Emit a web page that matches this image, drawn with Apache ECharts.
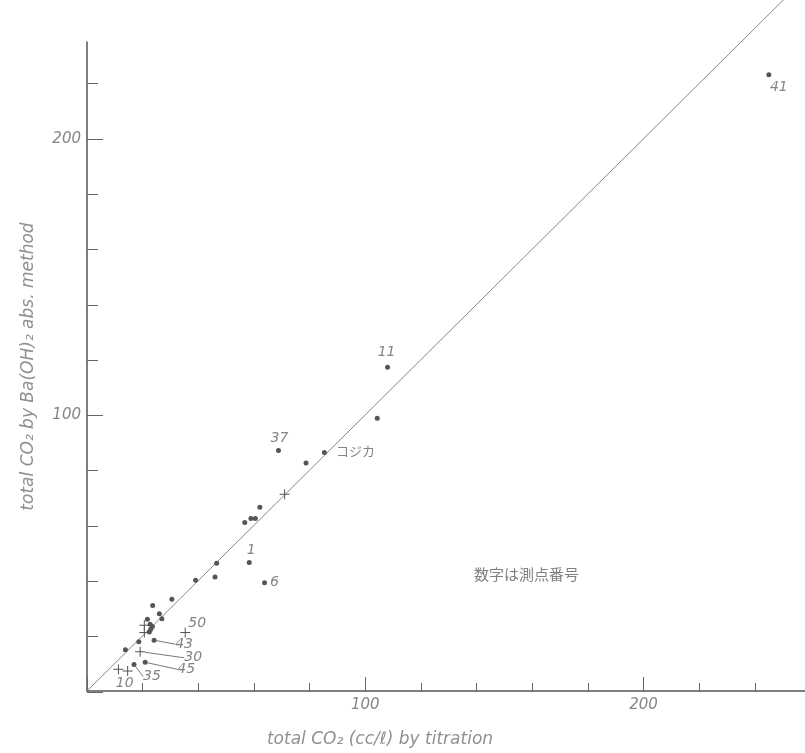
<!DOCTYPE html>
<html>
<head>
<meta charset="utf-8">
<script src="https://cdn.jsdelivr.net/npm/echarts@6/dist/echarts.min.js"></script>
<style>html,body{margin:0;padding:0;background:#fff;}#c{width:805px;height:753px;}</style>
</head>
<body>
<div id="c"></div>
<script>
// ---- data ----
const xMax = 258, yMax = 235;
const majorStep = 100, minorStep = 20;
const xMajorEnd = 200, xMinorEnd = 240;
const yMajorEnd = 200, yMinorEnd = 220;

const plainDots = [
  [104.3, 98.8], [78.7, 82.6], [62.1, 66.5], [60.5, 62.5], [58.9, 62.5], [56.7, 61.0],
  [46.6, 46.3], [46.0, 41.3], [39.0, 40.1], [30.5, 33.2], [23.6, 31.0], [26.0, 28.0],
  [26.9, 26.2], [21.7, 26.0], [22.7, 24.2], [23.5, 23.4], [22.9, 22.4], [22.4, 21.4],
  [18.6, 17.8], [13.8, 14.9]
];
const labeledDots = [
  ['41', 245.0, 223.1], ['11', 108.0, 117.2], ['37', 68.8, 87.1], ['コジカ', 85.3, 86.4],
  ['1', 58.3, 46.5], ['6', 63.8, 39.2], ['43', 24.1, 18.4], ['45', 20.9, 10.4], ['35', 16.9, 9.6]
];
const plainCrosses = [[71.0, 71.2], [20.6, 23.8], [20.6, 21.2], [11.3, 7.9]];
const labeledCrosses = [['50', 35.3, 21.2], ['30', 19.1, 14.2], ['10', 14.6, 7.2]];
const diagonal = [[0, 0], [258, 258]];

const xName = 'total CO₂ (cc/ℓ) by titration';
const yName = 'total CO₂ by Ba(OH)₂ abs. method';
const note = '数字は測点番号';

// ---- presentation ----
const labelOffset = {
  '41': [10, 12], '11': [-1, -15], '37': [1, -12], 'コジカ': [31, -1], '1': [2, -12],
  '6': [10, 0], '43': [30, 4], '45': [41, 7], '35': [18, 12], '50': [12, -9],
  '30': [53, 6], '10': [-3, 12]
};
const leader = {'43': 1, '45': 1, '35': 1, '30': 1};

const ink = '#555';
const txt = '#858585';
const fontItalic = {fontFamily: 'DejaVu Sans', fontStyle: 'italic', color: txt, fontSize: 14};
const crossPath = 'path://M4.5,0h1v4.5h4.5v1h-4.5v4.5h-1v-4.5h-4.5v-1h4.5z';

const G = {left: 87, right: 0, top: 42, bottom: 61};
const W = 805 - G.left - G.right, H = 753 - G.top - G.bottom;
const kx = W / xMax, ky = H / yMax;

function toItems(arr) {
  return arr.map(d => ({name: d[0], value: [d[1], d[2]]}));
}
function layoutFn(seriesData) {
  return function (p) {
    const name = seriesData[p.dataIndex].name;
    const off = labelOffset[name] || [0, 0];
    return {
      x: p.rect.x + p.rect.width / 2 + off[0],
      y: p.rect.y + p.rect.height / 2 + off[1],
      align: 'center', verticalAlign: 'middle'
    };
  };
}
function labeledSeries(items, symbol, size, withLeader) {
  const sel = items.filter(it => !!leader[it.name] === withLeader);
  return {
    type: 'scatter', data: sel, symbol: symbol, symbolSize: size,
    xAxisIndex: 0, yAxisIndex: 0,
    itemStyle: {color: ink, opacity: 1},
    label: Object.assign({show: true, position: 'inside', formatter: '{b}'}, fontItalic),
    labelLayout: layoutFn(sel),
    labelLine: {show: withLeader, smooth: false, length2: 0, lineStyle: {color: '#777', width: 1}},
    emphasis: {disabled: true}, animation: false, z: 3
  };
}

const dotItems = toItems(labeledDots);
const crossItems = toItems(labeledCrosses);

const hidden = {axisLine: {show: false}, axisTick: {show: false}, axisLabel: {show: false}, splitLine: {show: false}};
const labelFmt = v => (v === 0 ? '' : String(v));
const tickLabel = {show: true, margin: 6, fontFamily: 'DejaVu Sans', fontStyle: 'italic', color: txt, fontSize: 15, formatter: labelFmt};

const grids = [
  {left: G.left, right: G.right, top: G.top, bottom: G.bottom},                       // 0 main
  {left: G.left, right: 805 - G.left - xMajorEnd * kx, top: G.top, bottom: G.bottom},   // 1 x major
  {left: G.left, right: 805 - G.left - xMinorEnd * kx, top: G.top, bottom: G.bottom},   // 2 x minor
  {left: G.left, right: G.right, top: 753 - G.bottom - yMajorEnd * ky, bottom: G.bottom}, // 3 y major
  {left: G.left, right: G.right, top: 753 - G.bottom - yMinorEnd * ky, bottom: G.bottom}  // 4 y minor
];

const xAxes = [
  {type: 'value', gridIndex: 0, min: 0, max: xMax, position: 'bottom', splitLine: {show: false},
   axisLine: {show: true, lineStyle: {color: ink, width: 1.5}}, axisTick: {show: false}, axisLabel: {show: false},
   name: xName, nameLocation: 'middle', nameGap: 40,
   nameTextStyle: {fontFamily: 'DejaVu Sans', fontStyle: 'italic', color: '#909090', fontSize: 17, padding: [0, 132, 0, 0]}},
  {type: 'value', gridIndex: 1, min: 0, max: xMajorEnd, interval: majorStep, position: 'bottom', splitLine: {show: false},
   axisLine: {show: false}, axisTick: {show: true, inside: true, length: 15, lineStyle: {color: '#666', width: 1}},
   axisLabel: tickLabel},
  {type: 'value', gridIndex: 2, min: 0, max: xMinorEnd, interval: minorStep, position: 'bottom', splitLine: {show: false},
   axisLine: {show: false}, axisTick: {show: true, inside: true, length: 9, lineStyle: {color: '#666', width: 1}},
   axisLabel: {show: false}},
  Object.assign({type: 'value', gridIndex: 3, min: 0, max: 1}, hidden),
  Object.assign({type: 'value', gridIndex: 4, min: 0, max: 1}, hidden)
];
const yAxes = [
  {type: 'value', gridIndex: 0, min: 0, max: yMax, position: 'left', splitLine: {show: false},
   axisLine: {show: true, lineStyle: {color: ink, width: 1.5}}, axisTick: {show: false}, axisLabel: {show: false},
   name: yName, nameLocation: 'middle', nameGap: 50, nameRotate: 90,
   nameTextStyle: {fontFamily: 'DejaVu Sans', fontStyle: 'italic', color: '#909090', fontSize: 17}},
  Object.assign({type: 'value', gridIndex: 1, min: 0, max: 1}, hidden),
  Object.assign({type: 'value', gridIndex: 2, min: 0, max: 1}, hidden),
  {type: 'value', gridIndex: 3, min: 0, max: yMajorEnd, interval: majorStep, position: 'left', splitLine: {show: false},
   axisLine: {show: false}, axisTick: {show: true, inside: true, length: 16, lineStyle: {color: '#666', width: 1}},
   axisLabel: tickLabel},
  {type: 'value', gridIndex: 4, min: 0, max: yMinorEnd, interval: minorStep, position: 'left', splitLine: {show: false},
   axisLine: {show: false}, axisTick: {show: true, inside: true, length: 11, lineStyle: {color: '#666', width: 1}},
   axisLabel: {show: false}}
];

const option = {
  backgroundColor: '#fff',
  animation: false,
  grid: grids,
  xAxis: xAxes,
  yAxis: yAxes,
  graphic: [{
    type: 'text', left: 474, top: 567,
    style: {text: note, font: '15px "Noto Sans CJK JP"', fill: '#808080'}
  }],
  series: [
    {type: 'line', data: diagonal, showSymbol: false, symbol: 'none', clip: false,
     lineStyle: {color: '#888', width: 1}, emphasis: {disabled: true}, z: 1},
    {type: 'scatter', data: plainDots, symbol: 'circle', symbolSize: 5,
     itemStyle: {color: ink, opacity: 1}, emphasis: {disabled: true}, z: 3},
    {type: 'scatter', data: plainCrosses, symbol: crossPath, symbolSize: 10,
     itemStyle: {color: ink, opacity: 1}, emphasis: {disabled: true}, z: 3},
    labeledSeries(dotItems, 'circle', 5, false),
    labeledSeries(dotItems, 'circle', 5, true),
    labeledSeries(crossItems, crossPath, 10, false),
    labeledSeries(crossItems, crossPath, 10, true)
  ]
};
// Katakana label in upright style
option.series.forEach(s => {
  if (s.data && s.data.some && s.data.some(d => d && d.name === 'コジカ')) {
    s.data = s.data.map(d => d.name === 'コジカ'
      ? Object.assign({}, d, {label: {fontStyle: 'normal', fontFamily: 'Noto Sans CJK JP', fontSize: 13}})
      : d);
  }
});
const chart = echarts.init(document.getElementById('c'), null, {renderer: 'canvas'});
chart.setOption(option);
</script>
</body>
</html>
